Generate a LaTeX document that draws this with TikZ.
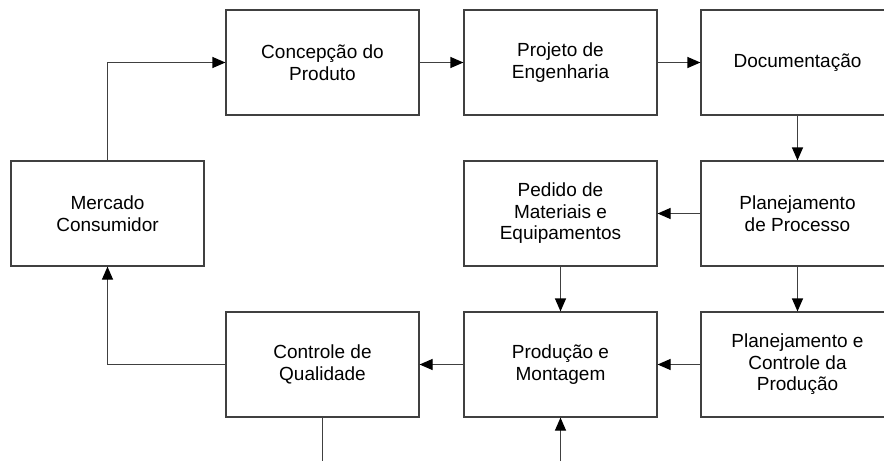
\documentclass[tikz,border=0pt]{standalone}
\usepackage{fontspec}
\setmainfont{Liberation Sans}
\usetikzlibrary{arrows.meta}
\definecolor{linegray}{RGB}{64,64,64}
\tikzset{
  blk/.style={draw=linegray, line width=1.2pt, rectangle, minimum width=193pt, minimum height=105pt, align=center, inner sep=0pt, font=\fontsize{19}{21.5}\selectfont},
  conn/.style={draw=linegray, line width=1.2pt, -{Triangle[length=13pt,width=11pt,color=black,fill=black]}},
  plain/.style={draw=linegray, line width=1.2pt}
}
\begin{document}
\begin{tikzpicture}[x=1pt,y=-1pt]
\useasboundingbox (0,0) rectangle (884,461);
\clip (0,0) rectangle (884,461);
\node[blk] (conc) at (322.5,62.5) {Concepção do\\Produto};
\node[blk] (proj) at (560.5,62.5) {Projeto de\\Engenharia};
\node[blk] (doc) at (797.5,62.5) {Documentação};
\node[blk] (merc) at (107.5,213.5) {Mercado\\Consumidor};
\node[blk] (ped) at (560.5,213.5) {Pedido de\\Materiais e\\Equipamentos};
\node[blk] (plp) at (797.5,213.5) {Planejamento\\de Processo};
\node[blk] (cq) at (322.5,364.5) {Controle de\\Qualidade};
\node[blk] (pm) at (560.5,364.5) {Produção e\\Montagem};
\node[blk] (pcp) at (797.5,364.5) {Planejamento e\\Controle da\\Produção};
\coordinate (cqout) at (322.5,461);
\coordinate (pmin) at (560.5,461);

\draw[conn] (merc.north) |- (conc.west);
\draw[conn] (conc) -- (proj);
\draw[conn] (proj) -- (doc);
\draw[conn] (doc) -- (plp);
\draw[conn] (plp) -- (ped);
\draw[conn] (plp) -- (pcp);
\draw[conn] (ped) -- (pm);
\draw[conn] (pcp) -- (pm);
\draw[conn] (pm) -- (cq);
\draw[conn] (cq.west) -| (merc.south);
\draw[plain] (cq.south) -- (cqout);
\draw[conn] (pmin) -- (pm.south);
\end{tikzpicture}
\end{document}
